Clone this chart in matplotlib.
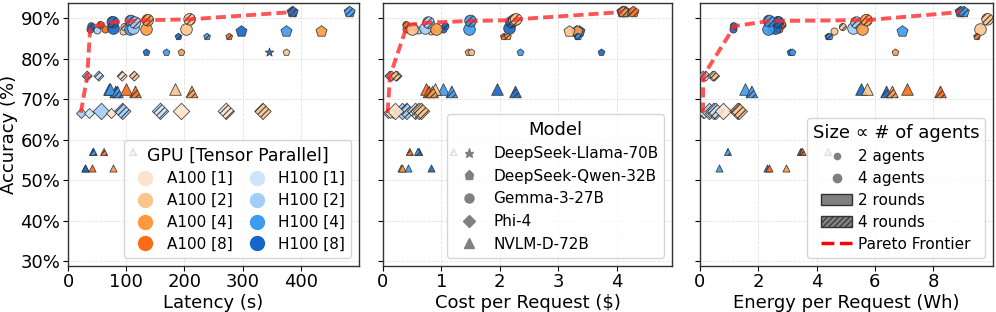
import matplotlib
matplotlib.use("Agg")
import matplotlib.pyplot as plt
from matplotlib.lines import Line2D
from matplotlib.patches import Patch
from matplotlib.ticker import FuncFormatter

plt.rcParams['hatch.color'] = '#333333'
plt.rcParams['hatch.linewidth'] = 0.8

# one entry per configuration (model, gpu, tensor parallel, agents, rounds)
model = ['G'] * 17 + ['Q'] * 16 + ['L'] + ['P'] * 13 + ['N'] * 16
gpu = ['H', 'H', 'H', 'A', 'A', 'H', 'H', 'A', 'A', 'H', 'H', 'H', 'H', 'A', 'A', 'A', 'A',
       'H', 'H', 'A', 'A', 'H', 'H', 'A', 'A', 'H', 'H', 'A', 'A', 'H', 'H', 'A', 'A',
       'H',
       'H', 'H', 'A', 'A', 'H', 'H', 'H', 'A', 'H', 'H', 'A', 'A', 'A',
       'H', 'H', 'H', 'H', 'A', 'A', 'A', 'A', 'H', 'A', 'A', 'H', 'H', 'H', 'A', 'A']
tp = [8, 8, 2, 8, 8, 8, 8, 2, 2, 4, 4, 2, 2, 4, 4, 2, 2,
      8, 4, 4, 8, 8, 4, 4, 2, 8, 4, 8, 4, 8, 4, 4, 2,
      8,
      2, 1, 1, 2, 2, 1, 2, 1, 2, 1, 1, 1, 2,
      8, 8, 4, 4, 8, 8, 2, 4, 8, 8, 1, 4, 4, 8, 8, 4]
agents = [2, 2, 2, 2, 2, 4, 4, 2, 2, 4, 4, 4, 4, 4, 4, 4, 4,
          4, 4, 4, 4, 4, 4, 4, 4, 2, 2, 2, 2, 2, 2, 2, 2,
          2,
          2, 2, 2, 2, 2, 2, 4, 2, 4, 4, 4, 4, 4,
          4, 4, 4, 4, 4, 4, 4, 4, 2, 2, 2, 2, 2, 2, 2, 2]
rounds = [2, 4, 2, 2, 4, 2, 4, 2, 4, 2, 4, 2, 4, 2, 4, 2, 4,
          4, 4, 4, 4, 2, 2, 2, 2, 4, 4, 4, 4, 2, 2, 2, 2,
          2,
          4, 4, 4, 4, 2, 2, 2, 2, 4, 4, 2, 4, 4,
          2, 4, 2, 4, 2, 4, 2, 4, 4, 4, 4, 4, 2, 2, 2, 2]
accuracy = [87.3, 88.0, 87.0, 87.2, 88.3, 87.5, 89.0, 86.9, 87.8, 87.4, 89.3, 87.5, 88.9, 87.3, 89.5, 87.2, 89.7,
            91.5, 91.5, 91.5, 91.5, 86.8, 86.8, 86.8, 86.8, 85.4, 85.4, 85.4, 85.4, 81.6, 81.6, 81.6, 81.6,
            81.6,
            75.7, 75.7, 75.7, 75.7, 66.7, 66.7, 67.0, 66.7, 67.0, 67.0, 67.0, 67.0, 67.0,
            72.6, 71.8, 72.6, 71.8, 72.6, 71.8, 72.6, 71.8, 57.0, 57.0, 57.0, 57.0, 53.0, 53.0, 53.0, 53.0]
latency = [38, 40, 50, 63, 56, 77, 77, 94, 97, 106, 108, 112, 115, 134, 137, 202, 209,
           386, 484, 560, 600, 298, 374, 434, 520, 190, 239, 277, 520, 134, 168, 194, 375,
           345,
           33, 53, 93, 114, 22, 36, 57, 74, 94, 159, 194, 272, 335,
           70, 82, 72, 85, 99, 116, 183, 213, 43, 62, 112, 44, 29, 30, 41, 77]
cost = [1.03, 1.07, 0.60, 0.39, 0.40, 2.15, 2.20, 0.83, 0.53, 1.47, 1.50, 0.72, 0.78, 0.90, 2.25, 0.50, 2.28,
        4.10, 4.15, 4.12, 4.29, 3.35, 3.30, 3.33, 3.18, 3.33, 3.35, 2.07, 2.14, 3.73, 2.34, 1.45, 1.50,
        5.50,
        0.12, 0.24, 0.15, 0.22, 0.08, 0.17, 0.32, 0.12, 0.41, 0.56, 0.20, 0.62, 0.66,
        1.95, 2.27, 1.02, 1.18, 0.73, 0.79, 0.89, 0.85, 0.62, 0.46, 1.21, 0.60, 0.43, 0.82, 0.31, 0.33]
energy = [1.12, 1.16, 2.45, 2.71, 2.83, 2.57, 2.68, 4.60, 4.90, 2.34, 2.37, 5.24, 5.37, 5.55, 5.71, 9.60, 9.86,
          8.94, 9.05, 11.5, 12.0, 10.5, 6.92, 11.0, 12.0, 4.40, 4.45, 9.50, 10.5, 3.10, 3.15, 6.68, 10.8,
          12.0,
          0.11, 0.20, 0.44, 0.50, 0.10, 0.15, 0.30, 0.35, 0.48, 0.55, 0.80, 1.30, 1.35,
          5.51, 6.40, 1.54, 1.78, 7.10, 8.25, 5.72, 6.60, 3.46, 3.52, 4.40, 0.96, 0.65, 2.30, 2.35, 2.94]

model_names = ['DeepSeek-Llama-70B', 'DeepSeek-Qwen-32B', 'Gemma-3-27B', 'Phi-4', 'NVLM-D-72B']
model_keys = ['L', 'Q', 'G', 'P', 'N']
markers = {'L': '*', 'Q': 'p', 'G': 'o', 'P': 'D', 'N': '^'}
colors = {('A', 1): '#fde3cb', ('A', 2): '#fdc48e', ('A', 4): '#fd9a40', ('A', 8): '#ff6a14',
          ('H', 1): '#cde4fb', ('H', 2): '#a0cdf9', ('H', 4): '#3c9bf2', ('H', 8): '#1466c8'}
sizes = {2: 26, 4: 70}

panels = [(latency, 'Latency (s)', 500, [0, 100, 200, 300, 400]),
          (cost, 'Cost per Request ($)', 4.95, [0, 1, 2, 3, 4]),
          (energy, 'Energy per Request (Wh)', 10.05, [0, 2, 4, 6, 8])]

fig = plt.figure(figsize=(9.96, 3.12), dpi=100)
lefts = [0.0683, 0.3845, 0.7028]
widths = [0.2921, 0.2902, 0.2942]
axes = []
for i in range(3):
    ax = fig.add_axes([lefts[i], 0.149, widths[i], 0.841])
    axes.append(ax)

for ax, (xs, xlabel, xmax, xticks) in zip(axes, panels):
    ax.grid(True, color='#cccccc', linestyle='--', linewidth=0.6, alpha=0.6)
    ax.set_axisbelow(True)
    for k in range(len(xs)):
        ax.scatter(xs[k], accuracy[k], s=sizes[agents[k]] * (1.6 if model[k] == 'L' else 1),
                   marker=markers[model[k]], color=colors[(gpu[k], tp[k])],
                   edgecolor='#333333', linewidth=0.6, alpha=0.9,
                   hatch='//////' if rounds[k] == 4 else None, zorder=3)
    # pareto frontier: lower x, higher accuracy
    order = sorted(range(len(xs)), key=lambda k: (xs[k], -accuracy[k]))
    px, py, best = [], [], -1
    for k in order:
        if xs[k] <= xmax and accuracy[k] > best:
            best = accuracy[k]
            px.append(xs[k])
            py.append(accuracy[k])
    ax.plot(px, py, color='#ff2a2a', linestyle='--', linewidth=2.8, dashes=(2.6, 1.3),
            alpha=0.8, zorder=4)
    ax.set_xlim(0, xmax)
    ax.set_ylim(29, 93.7)
    ax.set_xticks(xticks)
    ax.set_yticks([30, 40, 50, 60, 70, 80, 90])
    ax.set_xlabel(xlabel, fontsize=13, labelpad=2)
    ax.tick_params(labelsize=13, pad=2)
    for sp in ax.spines.values():
        sp.set_color('#333333')
        sp.set_linewidth(1.0)

axes[0].yaxis.set_major_formatter(FuncFormatter(lambda v, p: f'{v:.0f}%'))
axes[0].set_ylabel('Accuracy (%)', fontsize=13, labelpad=2)
axes[1].set_yticklabels([])
axes[2].set_yticklabels([])

gpu_handles = [Line2D([], [], marker='o', linestyle='none', markersize=10,
                      color=colors[(g, t)], label=f'{"A100" if g == "A" else "H100"} [{t}]')
               for g in ['A', 'H'] for t in [1, 2, 4, 8]]
leg1 = axes[0].legend(handles=gpu_handles, title='GPU [Tensor Parallel]', ncol=2,
                      loc='lower right', fontsize=11, title_fontsize=12.5,
                      handletextpad=0.4, columnspacing=0.6, labelspacing=0.45)
leg1.set_zorder(10)

model_handles = [Line2D([], [], marker=markers[m], linestyle='none', color='grey',
                        markersize=6.5, label=n)
                 for m, n in zip(model_keys, model_names)]
leg2 = axes[1].legend(handles=model_handles, title='Model', loc='lower right',
                      fontsize=11, title_fontsize=13, labelspacing=0.5, handletextpad=0.6)
leg2.set_zorder(10)

size_handles = [Line2D([], [], marker='o', linestyle='none', color='grey', markersize=4.5, label='2 agents'),
                Line2D([], [], marker='o', linestyle='none', color='grey', markersize=6, label='4 agents'),
                Patch(facecolor='grey', edgecolor='#333333', label='2 rounds'),
                Patch(facecolor='grey', edgecolor='#333333', hatch='//////', label='4 rounds'),
                Line2D([], [], color='red', linestyle='--', linewidth=2.5, label='Pareto Frontier')]
leg3 = axes[2].legend(handles=size_handles, title='Size \u221d # of agents', loc='lower right',
                      fontsize=11, title_fontsize=13, labelspacing=0.45, handletextpad=0.4)
leg3.set_zorder(10)

fig.savefig('out.png', dpi=100)
